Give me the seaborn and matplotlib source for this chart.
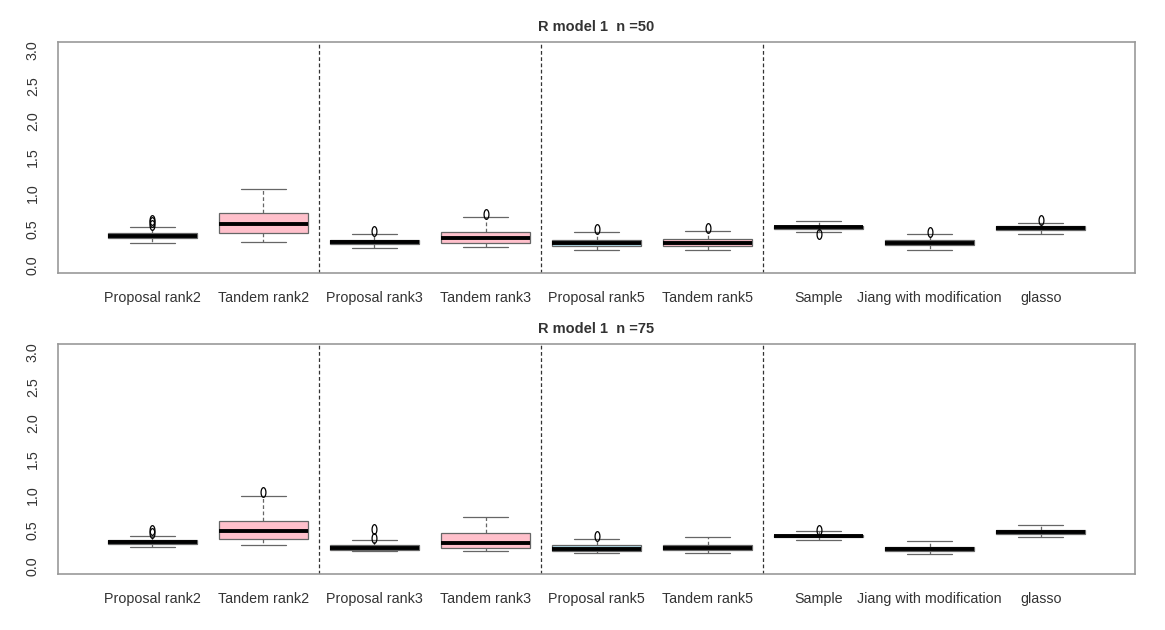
import numpy as np
import pandas as pd
import matplotlib
matplotlib.use('Agg')
import matplotlib.pyplot as plt
from matplotlib.path import Path as MPath
import seaborn as sns

# Noms des méthodes (axe x)
methods = ["Proposal rank2", "Tandem rank2", "Proposal rank3", "Tandem rank3",
           "Proposal rank5", "Tandem rank5", "Sample", "Jiang with modification", "glasso"]
box_colors = ["#ADD8E6", "#FFC0CB", "#ADD8E6", "#FFC0CB",
              "#ADD8E6", "#FFC0CB", "#FFFFFF", "#FFFFFF", "#ADD8E6"]

# Résumés : n = 50
lo_50 = [0.307, 0.317, 0.242, 0.247, 0.214, 0.214, 0.456, 0.205, 0.440]
q1_50 = [0.372, 0.442, 0.288, 0.302, 0.270, 0.270, 0.502, 0.274, 0.488]
med_50 = [0.409, 0.568, 0.321, 0.372, 0.311, 0.307, 0.530, 0.311, 0.510]
q3_50 = [0.442, 0.721, 0.349, 0.456, 0.349, 0.363, 0.549, 0.344, 0.540]
hi_50 = [0.534, 1.060, 0.436, 0.674, 0.465, 0.470, 0.610, 0.432, 0.580]
out_50 = [[0.56, 0.60, 0.63], [], [0.47], [0.71], [0.50], [0.52], [0.428], [0.455], [0.63]]

# Résumés : n = 75
lo_75 = [0.270, 0.289, 0.209, 0.209, 0.190, 0.190, 0.363, 0.167, 0.404]
q1_75 = [0.316, 0.377, 0.228, 0.247, 0.214, 0.219, 0.410, 0.214, 0.450]
med_75 = [0.339, 0.493, 0.247, 0.317, 0.233, 0.256, 0.428, 0.242, 0.478]
q3_75 = [0.367, 0.628, 0.289, 0.470, 0.289, 0.302, 0.442, 0.274, 0.510]
hi_75 = [0.428, 0.980, 0.367, 0.688, 0.377, 0.410, 0.488, 0.358, 0.580]
out_75 = [[0.47, 0.50], [1.04], [0.40, 0.526], [], [0.418], [], [0.51], [], []]

yticks = [0.0, 0.5, 1.0, 1.5, 2.0, 2.5, 3.0]
separators = [1.5, 3.5, 5.5]

TXT = "#333333"
EDGE = "#999999"

# Marqueur des valeurs aberrantes : petit ovale étroit, comme dans le rendu R
_t = np.linspace(0, 2 * np.pi, 25)
FLIER = MPath(np.column_stack([0.5 * np.cos(_t), np.sin(_t)]), closed=True)


def expand(lo, q1, med, q3, hi, outs):
    """Reconstruit un petit échantillon dont les quartiles valent ceux lus."""
    low = sorted(o for o in outs if o < q1)
    high = sorted(o for o in outs if o > q3)
    k = max(len(low), len(high)) + 1
    vals = low + [lo] * (k - len(low))
    vals += [q1] * k + [med] * k + [q3]
    vals += [hi] * (k - len(high)) + high
    return vals


def build_frame(lo, q1, med, q3, hi, outs):
    rows = []
    for i, m in enumerate(methods):
        for v in expand(lo[i], q1[i], med[i], q3[i], hi[i], outs[i]):
            rows.append({"method": m, "value": v})
    return pd.DataFrame(rows)


sns.set_style("white")
plt.rcParams['font.family'] = ['Liberation Sans', 'DejaVu Sans']

fig = plt.figure(figsize=(11.65, 6.3), dpi=100)
panels = [
    ("R model 1  n =50", build_frame(lo_50, q1_50, med_50, q3_50, hi_50, out_50),
     [0.0498, 0.5667, 0.9245, 0.3667]),
    ("R model 1  n =75", build_frame(lo_75, q1_75, med_75, q3_75, hi_75, out_75),
     [0.0498, 0.0889, 0.9245, 0.3651]),
]

for title, df, rect in panels:
    ax = fig.add_axes(rect)
    sns.boxplot(data=df, x="method", y="value", hue="method", order=methods,
                hue_order=methods, palette=box_colors, saturation=1, legend=False,
                width=0.8, whis=1.5, linecolor="#666666", linewidth=0.9, ax=ax,
                medianprops=dict(color="black", linewidth=2.8),
                whiskerprops=dict(color="#666666", linestyle=(0, (3, 2))),
                capprops=dict(color="#666666", linestyle="-"),
                flierprops=dict(marker=FLIER, markersize=7, markerfacecolor="none",
                                markeredgecolor="black", markeredgewidth=0.9))
    for s in separators:
        ax.axvline(s, color="#333333", linestyle=(0, (3, 2)), linewidth=0.9)
    ax.set_xlim(-0.85, 8.85)
    ax.set_ylim(-0.11, 3.11)
    ax.set_yticks(yticks)
    ax.set_yticklabels([f"{t:.1f}" for t in yticks], rotation=90, va="center")
    ax.set_xlabel("")
    ax.set_ylabel("")
    ax.tick_params(axis="both", direction="out", length=6, width=0.9,
                   color=EDGE, labelcolor=TXT, labelsize=10.3, pad=7)
    for sp in ax.spines.values():
        sp.set_color(EDGE)
        sp.set_linewidth(1.2)
        sp.set_visible(True)
    ax.set_title(title, fontsize=10.5, fontweight="bold", color=TXT, pad=8)

fig.savefig("out.png", dpi=100)
